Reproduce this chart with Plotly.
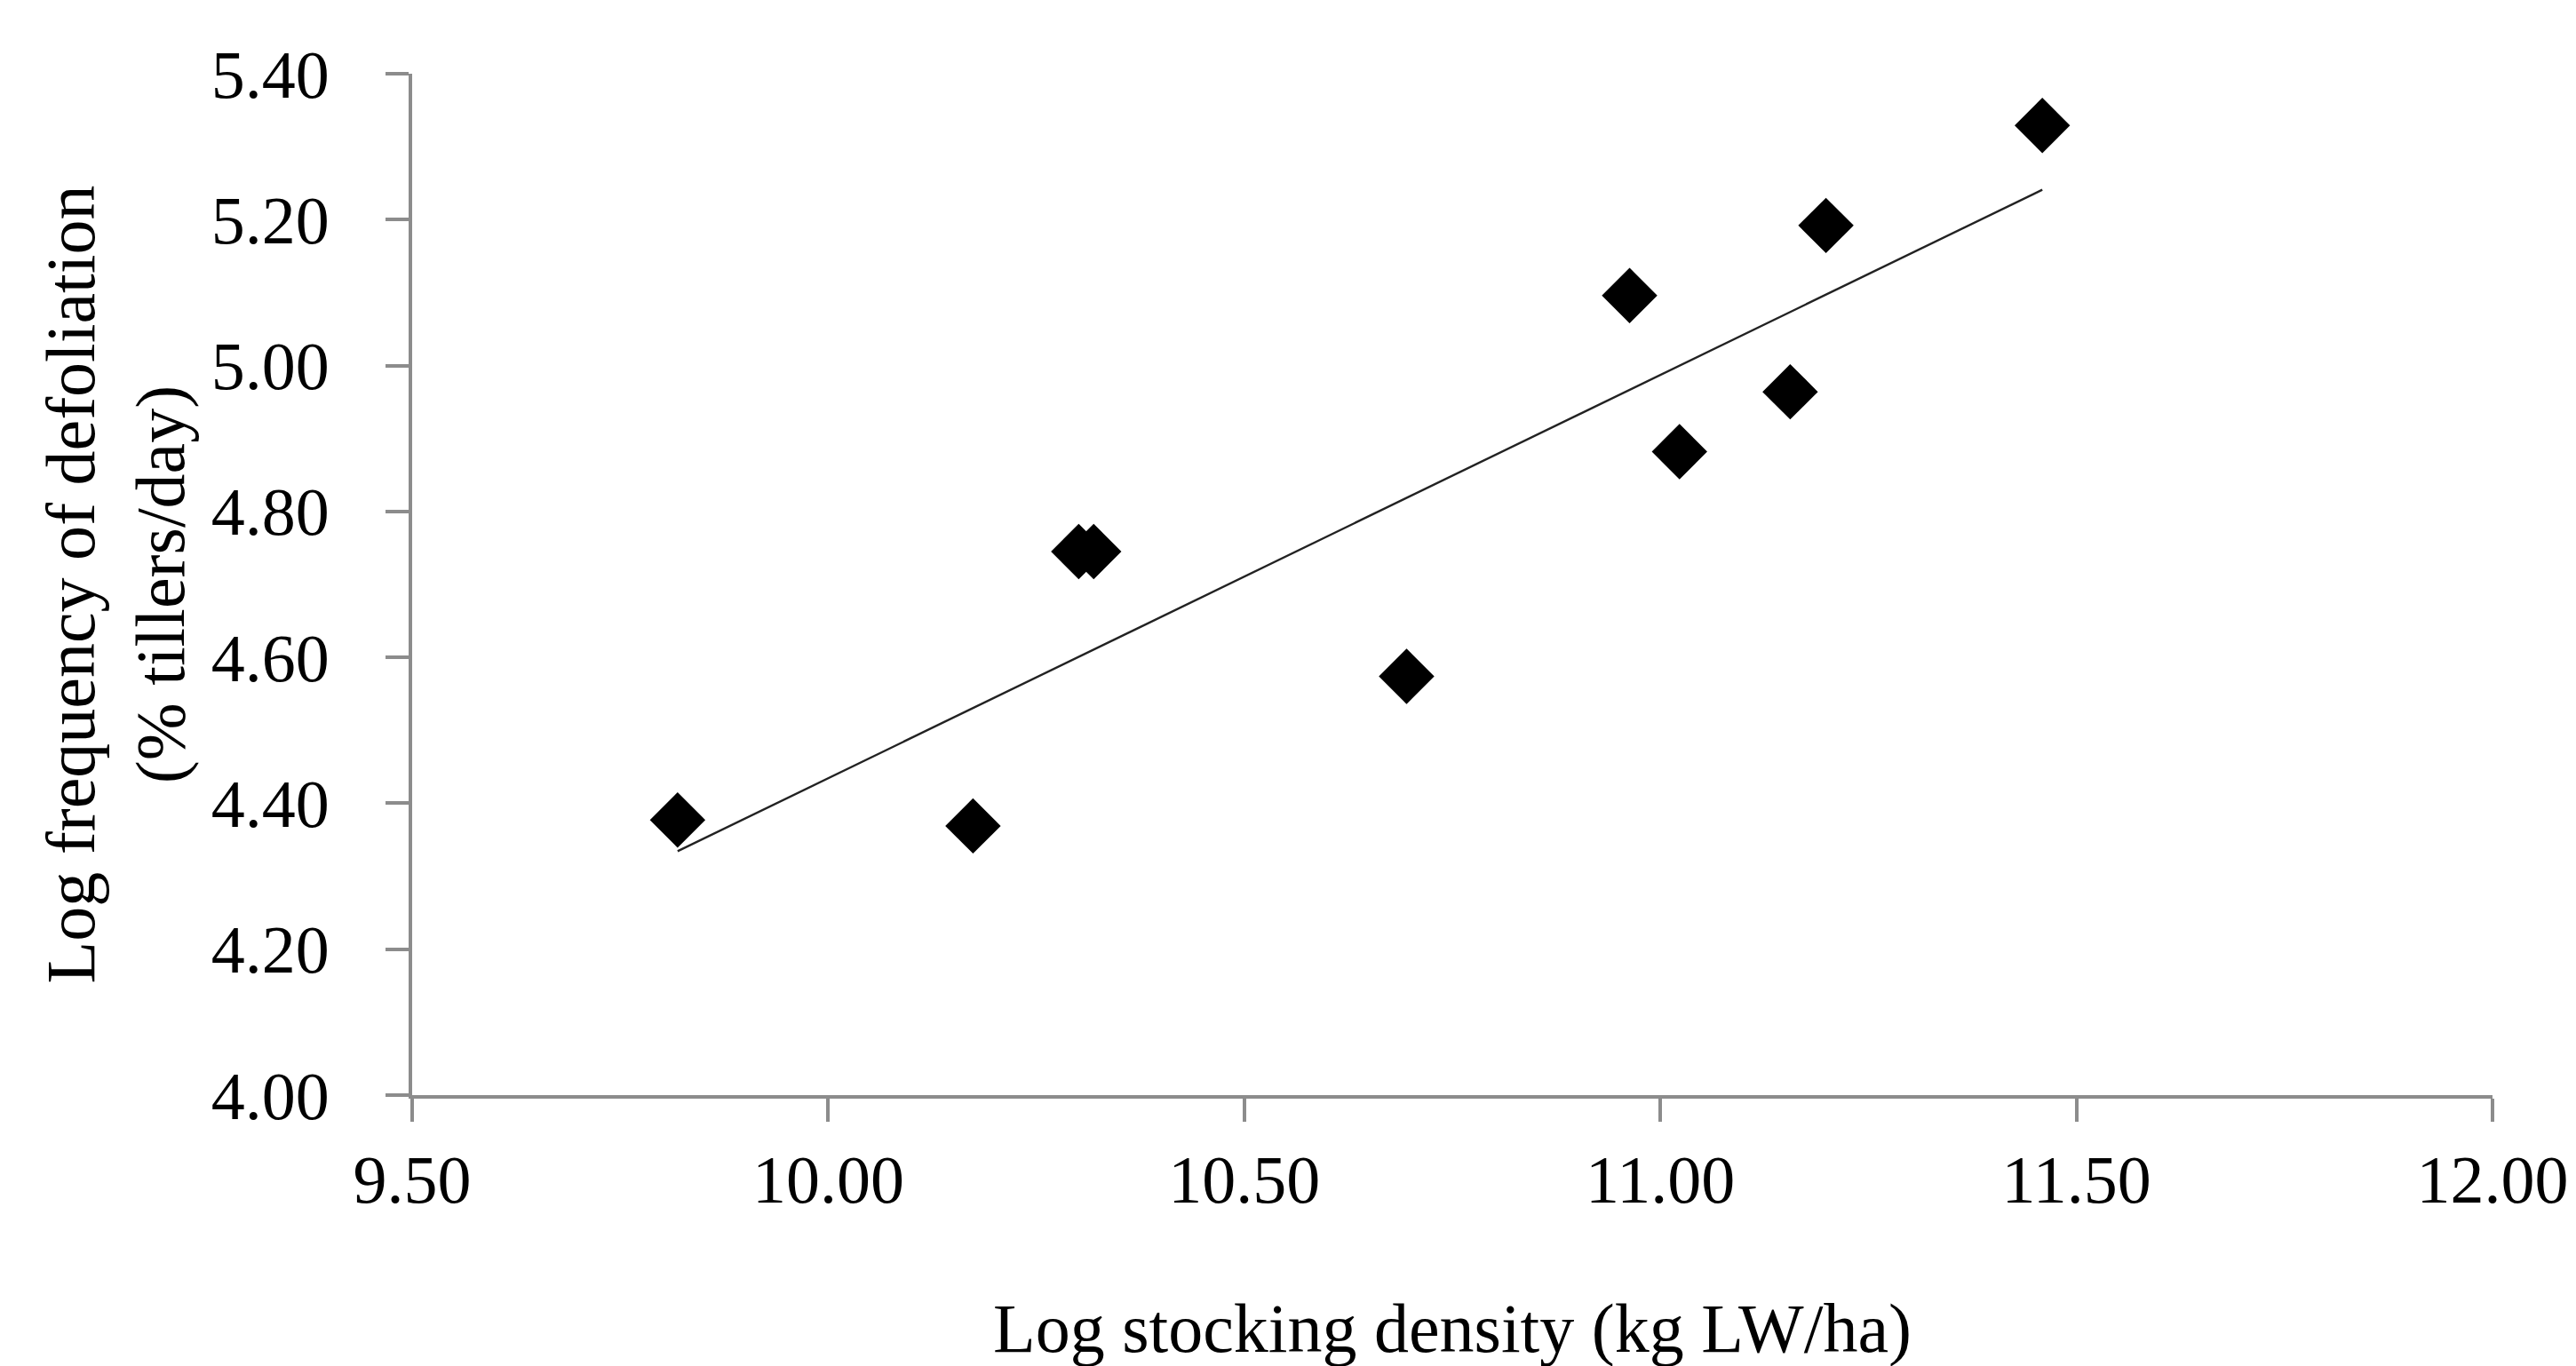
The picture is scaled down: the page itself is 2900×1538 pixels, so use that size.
import numpy as np
import plotly.graph_objects as go

# Data
stocking_density = [9.819, 10.174, 10.301, 10.319, 10.695, 10.963, 11.023, 11.156, 11.199, 11.459]
defoliation_freq = [4.377, 4.369, 4.745, 4.745, 4.574, 5.096, 4.882, 4.964, 5.192, 5.329]

x_ticks = [9.5, 10.0, 10.5, 11.0, 11.5, 12.0]
x_tick_labels = ["9.50", "10.00", "10.50", "11.00", "11.50", "12.00"]
y_ticks = [4.0, 4.2, 4.4, 4.6, 4.8, 5.0, 5.2, 5.4]
y_tick_labels = ["4.00", "4.20", "4.40", "4.60", "4.80", "5.00", "5.20", "5.40"]

# Linear trendline (least squares) from the data
slope, intercept = np.polyfit(stocking_density, defoliation_freq, 1)
trend_x = [min(stocking_density), max(stocking_density)]
trend_y = [slope * v + intercept for v in trend_x]

FONT = "Liberation Serif"
AXIS_COLOR = "#8c8c8c"

fig = go.Figure()
fig.add_trace(go.Scatter(
    x=trend_x, y=trend_y, mode="lines",
    line=dict(color="#222222", width=2.4),
    showlegend=False, hoverinfo="skip",
))
fig.add_trace(go.Scatter(
    x=stocking_density, y=defoliation_freq, mode="markers",
    marker=dict(symbol="diamond", size=48, color="black", line=dict(width=0)),
    showlegend=False,
))

fig.update_layout(
    width=2900, height=1538,
    margin=dict(l=456, r=102, t=75, b=313),
    paper_bgcolor="white", plot_bgcolor="white",
    font=dict(family=FONT, size=76, color="black"),
)
fig.update_xaxes(
    range=[9.5, 12.0], tickvals=x_ticks, ticktext=x_tick_labels,
    showgrid=False, zeroline=False,
    showline=True, linecolor=AXIS_COLOR, linewidth=4,
    ticks="outside", ticklen=26, tickwidth=4, tickcolor=AXIS_COLOR,
    ticklabelstandoff=0,
    tickfont=dict(family=FONT, size=76, color="black"),
    title=dict(text="Log stocking density (kg LW/ha)",
               font=dict(family=FONT, size=78, color="black"), standoff=99),
)
fig.update_yaxes(
    range=[4.0, 5.4], tickvals=y_ticks, ticktext=y_tick_labels,
    showgrid=False, zeroline=False,
    showline=True, linecolor=AXIS_COLOR, linewidth=4,
    ticks="outside", ticklen=26, tickwidth=4, tickcolor=AXIS_COLOR,
    ticklabelstandoff=48,
    tickfont=dict(family=FONT, size=76, color="black"),
    title=dict(text="Log frequency of defoliation<br>(% tillers/day)",
               font=dict(family=FONT, size=78, color="black"), standoff=5),
)

fig.write_html("out.html")
